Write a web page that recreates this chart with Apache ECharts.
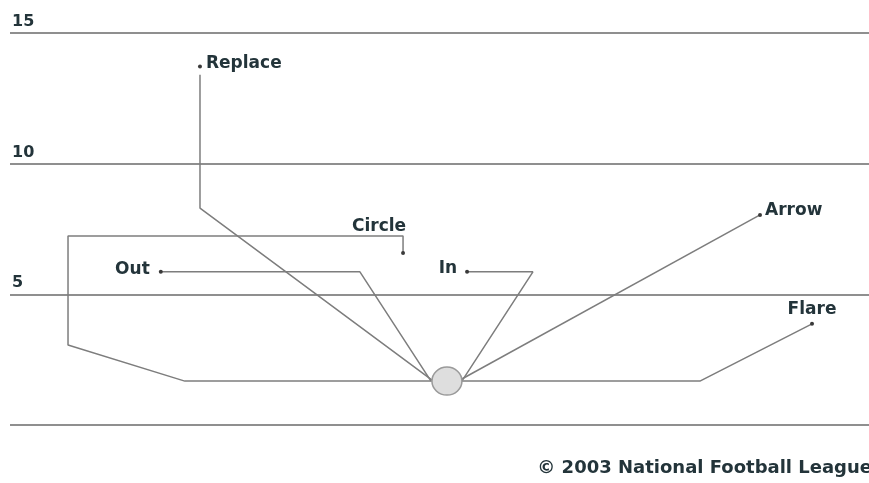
<!DOCTYPE html>
<html>
<head>
<meta charset="utf-8">
<script src="https://cdn.jsdelivr.net/npm/echarts@6/dist/echarts.min.js"></script>
<style>
html,body{margin:0;padding:0;background:#fff;}
#chart{width:869px;height:483px;}
</style>
</head>
<body>
<div id="chart"></div>
<script>
// Yard lines and tick labels
const yardTicks = [0, 5, 10, 15];
const yardTickLabels = ['', '5', '10', '15'];

// Route paths in yards: x = lateral from ball, y = depth from bottom line
const routeNames = ['Replace', 'Circle', 'Out', 'In', 'Arrow', 'Flare'];
const replaceRoute = [[-0.57, 1.72], [-9.45, 8.30], [-9.45, 13.40]];
const circleRoute  = [[-0.57, 1.68], [-10.03, 1.68], [-14.50, 3.06], [-14.50, 7.23], [-1.68, 7.23], [-1.68, 6.58]];
const outRoute     = [[-0.61, 1.68], [-3.33, 5.86], [-10.95, 5.86]];
const inRoute      = [[0.57, 1.68], [3.29, 5.86], [0.77, 5.86]];
const arrowRoute   = [[0.57, 1.76], [11.98, 8.04]];
const flareRoute   = [[0.57, 1.68], [9.68, 1.68], [13.97, 3.87]];

// Route end points (dots with labels)
const routeEnds = [[-9.45, 13.72], [-1.68, 6.58], [-10.95, 5.86], [0.77, 5.86], [11.98, 8.04], [13.97, 3.87]];

// Ball spot
const ballSpot = [[0, 1.68]];

const copyrightText = '\u00A9 2003 National Football League';

const routes = [replaceRoute, circleRoute, outRoute, inRoute, arrowRoute, flareRoute];

const textColor = '#23343a';
const labelFont = { fontFamily: 'DejaVu Sans', fontWeight: 'bold', fontSize: 17, color: textColor };

const labelStyles = {
  Replace: { position: 'right', distance: 4, offset: [0, -3] },
  Circle:  { position: 'top', distance: 4, offset: [-24, -12] },
  Out:     { position: 'left', distance: 9, offset: [0, -2] },
  In:      { position: 'left', distance: 8, offset: [0, -3] },
  Arrow:   { position: 'right', distance: 3, offset: [0, -4] },
  Flare:   { position: 'top', distance: 4, offset: [0, 0] }
};

const series = routes.map((r, i) => ({
  name: routeNames[i],
  type: 'line',
  data: r,
  symbol: 'none',
  silent: true,
  lineStyle: { color: '#7d7d7d', width: 1.5 },
  z: 2
}));

series.push({
  type: 'scatter',
  data: routeEnds.map((p, i) => ({
    value: p,
    name: routeNames[i],
    label: Object.assign({ show: true, formatter: '{b}' }, labelFont, labelStyles[routeNames[i]])
  })),
  symbol: 'circle',
  symbolSize: 4,
  itemStyle: { color: '#3a3a3a', opacity: 1 },
  z: 4
});

series.push({
  type: 'scatter',
  data: ballSpot,
  symbol: 'circle',
  symbolSize: [30, 28],
  itemStyle: { color: '#dedede', borderColor: '#9a9a9a', borderWidth: 1.5, opacity: 1 },
  z: 5
});

const chart = echarts.init(document.getElementById('chart'), null, { renderer: 'canvas' });
chart.setOption({
  animation: false,
  backgroundColor: '#ffffff',
  grid: { left: 10, right: 0, top: 33, bottom: 58 },
  xAxis: {
    type: 'value',
    min: -16.72,
    max: 16.15,
    show: false
  },
  yAxis: {
    type: 'value',
    min: yardTicks[0],
    max: yardTicks[yardTicks.length - 1],
    interval: 5,
    axisLine: { show: false },
    axisTick: { show: false },
    splitLine: { show: true, showMinLine: true, showMaxLine: true, lineStyle: { color: '#8f8f8f', width: 2 } },
    axisLabel: {
      inside: true,
      margin: 2,
      align: 'left',
      verticalAlign: 'bottom',
      padding: [0, 0, 3, 0],
      fontFamily: 'DejaVu Sans',
      fontWeight: 'bold',
      fontSize: 16,
      color: textColor,
      formatter: v => yardTickLabels[yardTicks.indexOf(v)] || ''
    }
  },
  graphic: [{
    type: 'text',
    right: -3,
    top: 459,
    style: {
      text: copyrightText,
      fontFamily: 'DejaVu Sans',
      fontWeight: 'bold',
      fontSize: 18,
      fill: textColor
    }
  }],
  series: series
});
</script>
</body>
</html>
